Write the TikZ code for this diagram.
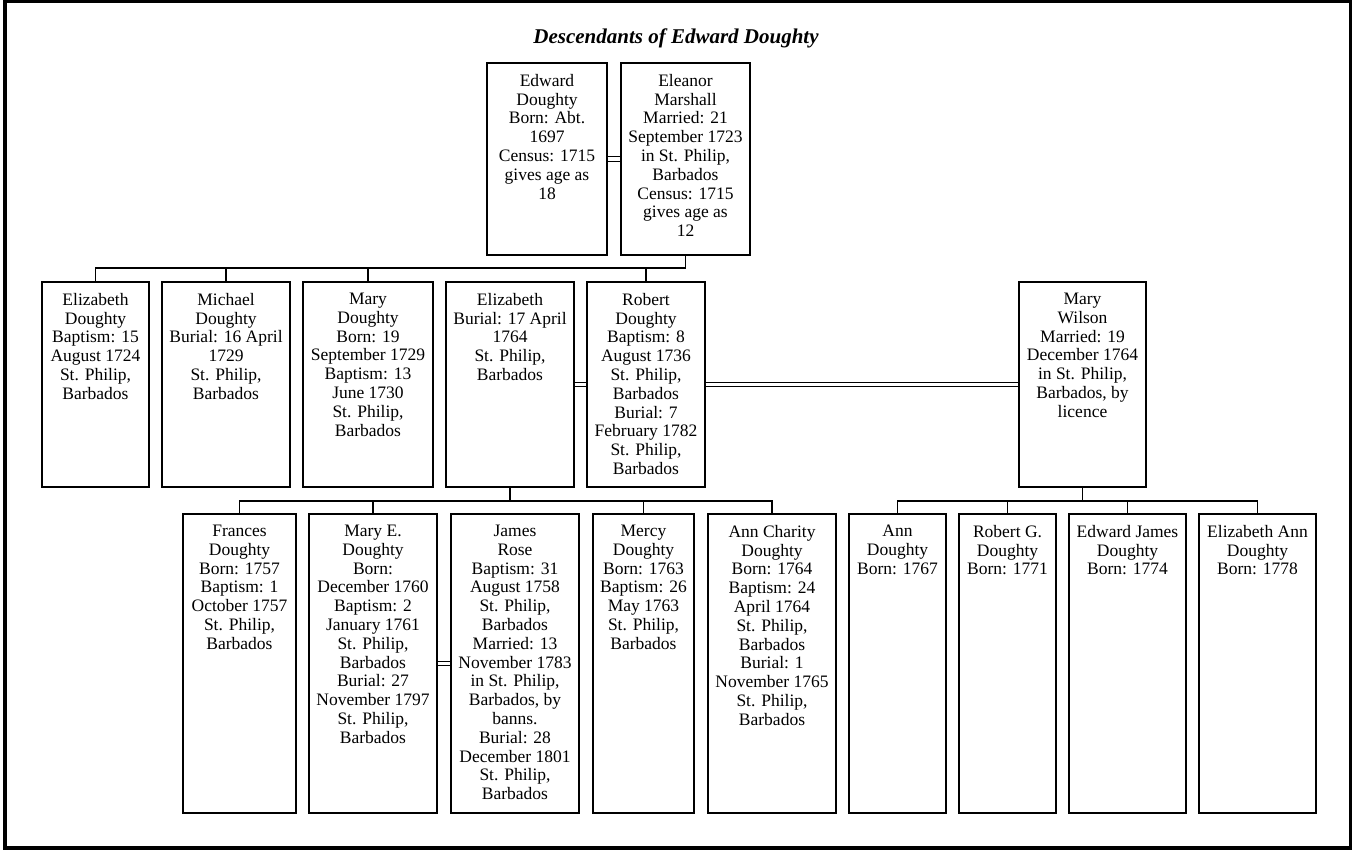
\documentclass[tikz,border=0pt]{standalone}
\usepackage{fontspec}
\setmainfont{Liberation Serif}
\begin{document}
\begin{tikzpicture}[x=1pt,y=-1pt,
  pbox/.style={draw, rectangle, line width=1.2pt, inner sep=0pt},
  ptext/.style={anchor=north, inner sep=0pt, align=center, font=\fontsize{17.5}{18.8}\selectfont},
  conn/.style={line width=1.2pt},
  marriage/.style={double, line width=1pt, double distance=3.2pt}]
\useasboundingbox (0,0) rectangle (1352,850);
\draw[line width=3.5pt] (5,1.75) rectangle (1350.5,848);
\node[anchor=base, inner sep=0pt, font=\fontsize{21}{24}\selectfont\bfseries\itshape] (title) at (676,44) {Descendants of Edward Doughty};

% generation 1
\node[pbox, minimum width=120pt, minimum height=192pt] (edward) at (547,159) {};
\node[pbox, minimum width=129pt, minimum height=192pt] (eleanor) at (685.5,159) {};
% generation 2
\node[pbox, minimum width=107pt, minimum height=205pt] (ed) at (95.5,384.5) {};
\node[pbox, minimum width=128pt, minimum height=205pt] (mi) at (226,384.5) {};
\node[pbox, minimum width=130pt, minimum height=205pt] (md) at (368,384.5) {};
\node[pbox, minimum width=128pt, minimum height=205pt] (el) at (510,384.5) {};
\node[pbox, minimum width=118pt, minimum height=205pt] (ro) at (646,384.5) {};
\node[pbox, minimum width=127pt, minimum height=205pt] (mw) at (1082.5,384.5) {};
% generation 3
\node[pbox, minimum width=113pt, minimum height=299pt] (fr) at (239.5,663.5) {};
\node[pbox, minimum width=128pt, minimum height=299pt] (me) at (373,663.5) {};
\node[pbox, minimum width=128pt, minimum height=299pt] (jr) at (515,663.5) {};
\node[pbox, minimum width=101pt, minimum height=299pt] (mc) at (643.5,663.5) {};
\node[pbox, minimum width=128pt, minimum height=299pt] (ac) at (772,663.5) {};
\node[pbox, minimum width=97pt, minimum height=299pt] (an) at (897.5,663.5) {};
\node[pbox, minimum width=97pt, minimum height=299pt] (rg) at (1007.5,663.5) {};
\node[pbox, minimum width=117pt, minimum height=299pt] (ej) at (1127.5,663.5) {};
\node[pbox, minimum width=117pt, minimum height=299pt] (ea) at (1257.5,663.5) {};

% texts
\node[ptext] (edward-t) at ([yshift=-11.5pt]edward.north) {Edward\\Doughty\\Born: Abt.\\1697\\Census: 1715\\gives age as\\18};
\node[ptext] (eleanor-t) at ([yshift=-11.5pt]eleanor.north) {Eleanor\\Marshall\\Married: 21\\September 1723\\in St. Philip,\\Barbados\\Census: 1715\\gives age as\\12};
\node[ptext] (ed-t) at ([yshift=-11.5pt]ed.north) {Elizabeth\\Doughty\\Baptism: 15\\August 1724\\St. Philip,\\Barbados};
\node[ptext] (mi-t) at ([yshift=-11.5pt]mi.north) {Michael\\Doughty\\Burial: 16 April\\1729\\St. Philip,\\Barbados};
\node[ptext] (md-t) at ([yshift=-11.5pt]md.north) {Mary\\Doughty\\Born: 19\\September 1729\\Baptism: 13\\June 1730\\St. Philip,\\Barbados};
\node[ptext] (el-t) at ([yshift=-11.5pt]el.north) {Elizabeth\\Burial: 17 April\\1764\\St. Philip,\\Barbados};
\node[ptext] (ro-t) at ([yshift=-11.5pt]ro.north) {Robert\\Doughty\\Baptism: 8\\August 1736\\St. Philip,\\Barbados\\Burial: 7\\February 1782\\St. Philip,\\Barbados};
\node[ptext] (mw-t) at ([yshift=-11.5pt]mw.north) {Mary\\Wilson\\Married: 19\\December 1764\\in St. Philip,\\Barbados, by\\licence};
\node[ptext] (fr-t) at ([yshift=-11.5pt]fr.north) {Frances\\Doughty\\Born: 1757\\Baptism: 1\\October 1757\\St. Philip,\\Barbados};
\node[ptext] (me-t) at ([yshift=-11.5pt]me.north) {Mary E.\\Doughty\\Born:\\December 1760\\Baptism: 2\\January 1761\\St. Philip,\\Barbados\\Burial: 27\\November 1797\\St. Philip,\\Barbados};
\node[ptext] (jr-t) at ([yshift=-11.5pt]jr.north) {James\\Rose\\Baptism: 31\\August 1758\\St. Philip,\\Barbados\\Married: 13\\November 1783\\in St. Philip,\\Barbados, by\\banns.\\Burial: 28\\December 1801\\St. Philip,\\Barbados};
\node[ptext] (mc-t) at ([yshift=-11.5pt]mc.north) {Mercy\\Doughty\\Born: 1763\\Baptism: 26\\May 1763\\St. Philip,\\Barbados};
\node[ptext] (ac-t) at ([yshift=-11.5pt]ac.north) {Ann Charity\\Doughty\\Born: 1764\\Baptism: 24\\April 1764\\St. Philip,\\Barbados\\Burial: 1\\November 1765\\St. Philip,\\Barbados};
\node[ptext] (an-t) at ([yshift=-11.5pt]an.north) {Ann\\Doughty\\Born: 1767};
\node[ptext] (rg-t) at ([yshift=-11.5pt]rg.north) {Robert G.\\Doughty\\Born: 1771};
\node[ptext] (ej-t) at ([yshift=-11.5pt]ej.north) {Edward James\\Doughty\\Born: 1774};
\node[ptext] (ea-t) at ([yshift=-11.5pt]ea.north) {Elizabeth Ann\\Doughty\\Born: 1778};

% marriages
\draw[marriage] (edward.east) -- (eleanor.west);
\draw[marriage] (el.east) -- (ro.west);
\draw[marriage] (ro.east) -- (mw.west);
\draw[marriage] (me.east) -- (jr.west);

% family 1
\coordinate (j1) at (685.5,268);
\draw[conn] (eleanor.south) -- (j1);
\draw[conn] (j1) -| (ed.north);
\draw[conn] (j1) -| (mi.north);
\draw[conn] (j1) -| (md.north);
\draw[conn] (j1) -| (ro.north);
% family 2
\coordinate (j2) at (510,501);
\draw[conn] (el.south) -- (j2);
\draw[conn] (j2) -| (fr.north);
\draw[conn] (j2) -| (me.north);
\draw[conn] (j2) -| (mc.north);
\draw[conn] (j2) -| (ac.north);
% family 3
\coordinate (j3) at (1082.5,501);
\draw[conn] (mw.south) -- (j3);
\draw[conn] (j3) -| (an.north);
\draw[conn] (j3) -| (rg.north);
\draw[conn] (j3) -| (ej.north);
\draw[conn] (j3) -| (ea.north);
\end{tikzpicture}
\end{document}
